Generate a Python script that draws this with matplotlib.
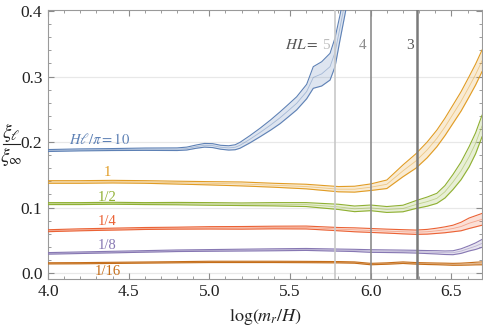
import numpy as np
import matplotlib
matplotlib.use("Agg")
import matplotlib.pyplot as plt
from matplotlib.lines import Line2D
from matplotlib.ticker import MultipleLocator, FormatStrFormatter

plt.rcParams["font.family"] = ["Liberation Serif", "DejaVu Serif"]
plt.rcParams["mathtext.fontset"] = "stix"

# Mathematica-style palette
BLUE, ORANGE, GREEN = "#5E81B5", "#E19C24", "#8FB032"
RED, PURPLE, BROWN = "#EB6235", "#8778B3", "#C56E1A"

# common x grid for the five lower curves, log(m_r/H)
x_grid = [4.0, 4.2, 4.4, 4.6, 4.8, 5.0, 5.2, 5.4, 5.6, 5.8, 5.9,
          6.0, 6.1, 6.2, 6.28, 6.35, 6.41, 6.46, 6.51, 6.56, 6.61, 6.65, 6.69]

# H l / pi = 1
y_1 = [0.139, 0.139, 0.1395, 0.139, 0.138, 0.137, 0.136, 0.134, 0.132, 0.128, 0.128,
       0.131, 0.1355, 0.156, 0.171, 0.188, 0.2055, 0.223, 0.2425, 0.262, 0.2845, 0.303, 0.324]
e_1 = [0.002, 0.002, 0.002, 0.002, 0.0022, 0.0025, 0.003, 0.003, 0.0035, 0.004, 0.0045,
       0.005, 0.0065, 0.009, 0.011, 0.012, 0.0127, 0.0133, 0.014, 0.0148, 0.0155, 0.016, 0.0165]

# 1/2
y_2 = [0.106, 0.106, 0.1065, 0.106, 0.106, 0.1055, 0.105, 0.105, 0.1045, 0.101, 0.098,
       0.0995, 0.097, 0.0985, 0.1045, 0.109, 0.114, 0.124, 0.139, 0.156, 0.1775, 0.198, 0.2245]
e_2 = [0.0015, 0.0015, 0.0015, 0.0015, 0.0018, 0.002, 0.002, 0.0025, 0.003, 0.004, 0.0043,
       0.0043, 0.0045, 0.005, 0.006, 0.007, 0.0077, 0.0095, 0.0115, 0.0135, 0.0155, 0.016, 0.0165]

# 1/4
y_4 = [0.0646, 0.066, 0.067, 0.068, 0.0685, 0.069, 0.069, 0.0695, 0.0695, 0.067, 0.066,
       0.065, 0.064, 0.063, 0.0623, 0.063, 0.0645, 0.066, 0.068, 0.071, 0.076, 0.079, 0.082]
e_4 = [0.0015, 0.0015, 0.0015, 0.0015, 0.0015, 0.0018, 0.002, 0.002, 0.0022, 0.0025, 0.003,
       0.003, 0.003, 0.0032, 0.0033, 0.0036, 0.004, 0.0045, 0.005, 0.0065, 0.008, 0.0085, 0.009]

# 1/8
y_8 = [0.030, 0.031, 0.032, 0.033, 0.034, 0.0345, 0.035, 0.0355, 0.036, 0.035, 0.0345,
       0.0336, 0.0333, 0.033, 0.0326, 0.032, 0.0316, 0.031, 0.031, 0.0335, 0.0377, 0.041, 0.0453]
e_8 = [0.0012, 0.0012, 0.0012, 0.0012, 0.0012, 0.0013, 0.0014, 0.0015, 0.0015, 0.0016, 0.0017,
       0.002, 0.002, 0.002, 0.0021, 0.0023, 0.0025, 0.0027, 0.003, 0.0035, 0.004, 0.005, 0.006]

# 1/16
y_16 = [0.0148, 0.015, 0.0155, 0.016, 0.0165, 0.017, 0.017, 0.017, 0.0168, 0.0165, 0.016,
        0.0137, 0.0145, 0.0158, 0.0148, 0.0143, 0.014, 0.0137, 0.0133, 0.0135, 0.014, 0.0145, 0.0148]
e_16 = [0.0009, 0.0009, 0.0009, 0.0009, 0.0009, 0.001, 0.001, 0.001, 0.001, 0.001, 0.001,
        0.0011, 0.0011, 0.0012, 0.0012, 0.0013, 0.0013, 0.0014, 0.0015, 0.0016, 0.0018, 0.002, 0.0022]

# H l / pi = 10 (own grid, it blows up before 6)
x_10 = [4.0, 4.2, 4.4, 4.6, 4.8, 4.86, 4.92, 4.97, 5.02, 5.07, 5.12, 5.16, 5.19,
        5.25, 5.314, 5.38, 5.438, 5.49, 5.541, 5.603, 5.644, 5.696, 5.748, 5.779,
        5.81, 5.84, 5.9]
y_10 = [0.187, 0.188, 0.1885, 0.189, 0.189, 0.190, 0.193, 0.195, 0.1945, 0.192, 0.191,
        0.192, 0.195, 0.204, 0.2145, 0.226, 0.237, 0.248, 0.259, 0.277, 0.2985, 0.304,
        0.315, 0.337, 0.375, 0.413, 0.50]
e_10 = [0.0015, 0.0015, 0.0015, 0.0018, 0.002, 0.0022, 0.0025, 0.0028, 0.003, 0.003, 0.0033,
        0.0038, 0.0045, 0.0055, 0.0065, 0.0078, 0.009, 0.0095, 0.01, 0.011, 0.0165, 0.0185,
        0.0204, 0.022, 0.019, 0.019, 0.025]

series = [
    (x_10, y_10, e_10, BLUE, r"$H\ell/\pi = 10$", 4.322, 0.2045),
    (x_grid, y_1, e_1, ORANGE, "1", 4.366, 0.154),
    (x_grid, y_2, e_2, GREEN, "1/2", 4.364, 0.116),
    (x_grid, y_4, e_4, RED, "1/4", 4.364, 0.078),
    (x_grid, y_8, e_8, PURPLE, "1/8", 4.364, 0.042),
    (x_grid, y_16, e_16, BROWN, "1/16", 4.37, 0.0025),
]

# vertical markers for HL = 5, 4, 3
hl_vals = ["5", "4", "3"]
hl_x = [5.777, 6.0, 6.288]
hl_colors = ["#c8c8c8", "#8c8c8c", "#7a7a7a"]
hl_widths = [1.2, 1.2, 1.8]
hl_label_x = [5.723, 5.949, 6.242]
hl_text_colors = ["#bdbdbd", "#8c8c8c", "#555555"]

fig = plt.figure(figsize=(4.83, 3.27), dpi=100)
ax = fig.add_axes([0.0994, 0.148, 0.8986, 0.8214])

for y in [0.0, 0.1, 0.2, 0.3]:
    ax.axhline(y, color="#e8e8e8", lw=0.9, zorder=0)

for xs, ys, es, c, lab, lx, ly in series:
    xs = np.asarray(xs)
    ys = np.asarray(ys)
    es = np.asarray(es)
    ax.fill_between(xs, ys - es, ys + es, color=c, alpha=0.2, lw=0, zorder=2)
    ax.plot(xs, ys + es, color=c, lw=0.8, zorder=3)
    ax.plot(xs, ys - es, color=c, lw=0.8, zorder=3)
    ax.plot(xs, ys, color=c, lw=0.6, alpha=0.45, zorder=3)
    ax.text(lx, ly, lab, color=c, fontsize=10.5, ha="center", va="center",
            zorder=5)

for xv, c, w in zip(hl_x, hl_colors, hl_widths):
    ax.axvline(xv, color=c, lw=w, zorder=4)

ax.text(5.675, 0.348, r"$HL=$", color="#555555", fontsize=11,
        ha="right", va="center")
for t, xv, c in zip(hl_vals, hl_label_x, hl_text_colors):
    ax.text(xv, 0.348, t, color=c, fontsize=11, ha="center", va="center")

ax.set_xlim(4.0, 6.69)
ax.set_ylim(-0.0085, 0.4015)
ax.xaxis.set_major_locator(MultipleLocator(0.5))
ax.xaxis.set_minor_locator(MultipleLocator(0.1))
ax.yaxis.set_major_locator(MultipleLocator(0.1))
ax.yaxis.set_minor_locator(MultipleLocator(0.02))
ax.xaxis.set_major_formatter(FormatStrFormatter("%.1f"))
ax.yaxis.set_major_formatter(FormatStrFormatter("%.1f"))
ax.tick_params(which="both", direction="in", top=True, right=True,
               color="#8c8c8c", labelsize=12.5, labelcolor="#222222")
ax.tick_params(which="major", length=4, width=0.8, pad=4)
ax.tick_params(which="minor", length=2.2, width=0.6)
for s in ax.spines.values():
    s.set_color("#9a9a9a")
    s.set_linewidth(0.8)

fig.text(0.549, 0.03, r"$\log(m_r/H)$", fontsize=13, ha="center", va="center",
         color="#222222")

# y label as a stacked fraction
fig.text(0.023, 0.595, r"$\xi_\ell$", fontsize=14, ha="center", va="center",
         color="#222222")
fig.text(0.023, 0.522, r"$\xi_\infty$", fontsize=14, ha="center", va="center",
         color="#222222")
fig.add_artist(Line2D([0.006, 0.041], [0.5596, 0.5596], transform=fig.transFigure,
                      color="#222222", lw=0.8))

fig.savefig("out.png", dpi=100)
